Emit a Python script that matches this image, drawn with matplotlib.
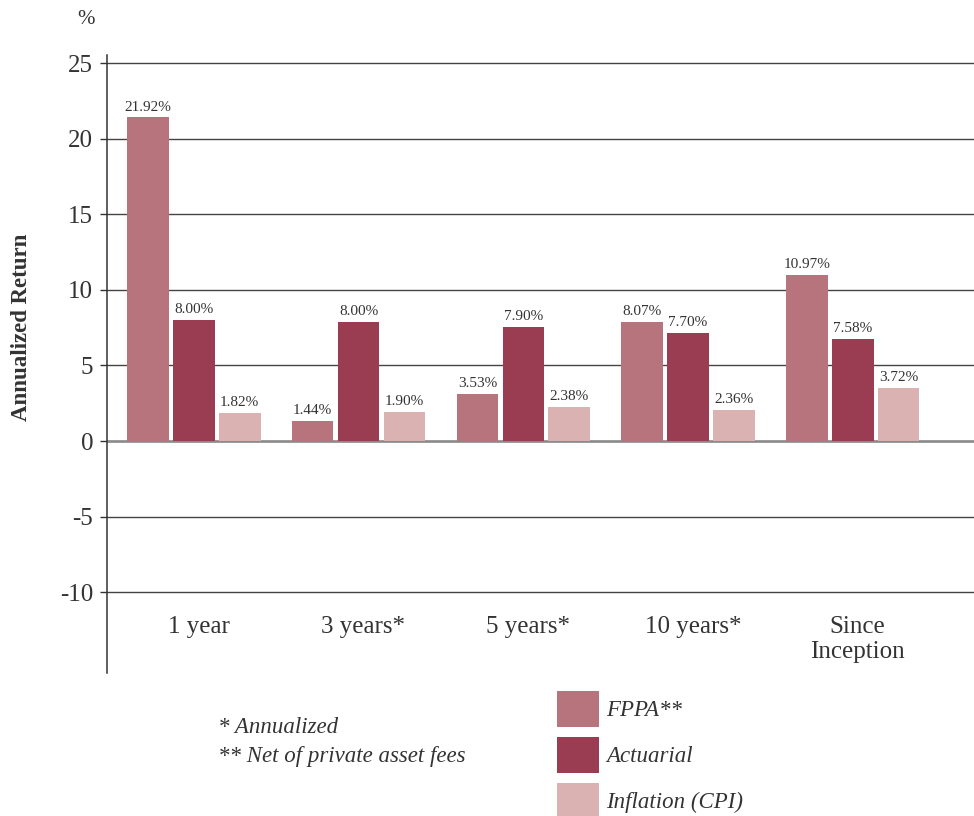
import numpy as np
import matplotlib
matplotlib.use('Agg')
from matplotlib import pyplot as plt

# values
periods = ['1 year', '3 years*', '5 years*', '10 years*', 'Since\nInception']
series = ['FPPA**', 'Actuarial', 'Inflation (CPI)']
colors = ['#B8747C', '#9A3C52', '#DAB2B2']

fppa = [21.4, 1.3, 3.1, 7.9, 11.0]
actuarial = [8.0, 7.9, 7.55, 7.15, 6.75]
cpi = [1.83, 1.9, 2.25, 2.05, 3.5]

fppa_labels = ['21.92%', '1.44%', '3.53%', '8.07%', '10.97%']
actuarial_labels = ['8.00%', '8.00%', '7.90%', '7.70%', '7.58%']
cpi_labels = ['1.82%', '1.90%', '2.38%', '2.36%', '3.72%']

yticks = [-10, -5, 0, 5, 10, 15, 20, 25]

plt.rcParams['font.family'] = ['Liberation Serif', 'DejaVu Serif']
text_color = '#333333'

fig = plt.figure(figsize=(9.74, 8.16), dpi=100)
ax = fig.add_axes([107 / 974, 143 / 816, 867 / 974, 618 / 816])

x = np.arange(len(periods))
width = 0.252
step = 0.279

values = [fppa, actuarial, cpi]
labels = [fppa_labels, actuarial_labels, cpi_labels]
bars = []
for i, (vals, labs) in enumerate(zip(values, labels)):
    b = ax.bar(x + (i - 1) * step, vals, width, color=colors[i], label=series[i], zorder=3)
    bars.append(b)
    for rect, lab in zip(b, labs):
        ax.annotate(lab, (rect.get_x() + rect.get_width() / 2, rect.get_height()),
                    xytext=(0, 5), textcoords='offset points', ha='center', va='baseline',
                    fontsize=11, color=text_color, zorder=4)

ax.set_xlim(-0.527, 4.736)
ax.set_ylim(-15.34, 25.53)
ax.set_yticks(yticks)
ax.set_yticklabels([str(t) for t in yticks])
ax.set_xticks([])
ax.tick_params(axis='y', length=5, width=1.0, pad=5, labelsize=18, colors=text_color)

for s in ['top', 'right', 'bottom']:
    ax.spines[s].set_visible(False)
ax.spines['left'].set_color(text_color)
ax.spines['left'].set_linewidth(1.1)

ax.grid(axis='y', color='#444444', linewidth=1.0, zorder=1)
ax.axhline(0, color='#8a8a8a', linewidth=1.8, zorder=2)

for xi, p in zip(x, periods):
    ax.text(xi + 0.03, -11.6, p, ha='center', va='top', fontsize=18, color=text_color,
            linespacing=1.16)

fig.text(86 / 974, 1 - 19 / 816, '%', ha='center', va='center', fontsize=15, color=text_color)
fig.text(22 / 974, 1 - 327 / 816, 'Annualized Return', rotation=90, ha='center', va='center',
         fontsize=16.5, fontweight='bold', color=text_color)

fig.text(218 / 974, 1 - 733 / 816, '* Annualized', ha='left', va='baseline',
         fontsize=16.5, style='italic', color=text_color)
fig.text(218 / 974, 1 - 762 / 816, '** Net of private asset fees', ha='left', va='baseline',
         fontsize=16.5, style='italic', color=text_color)

leg = fig.legend(handles=bars, labels=series, loc='upper left',
                 bbox_to_anchor=(557 / 974, 1 - 691 / 816), frameon=False,
                 prop={'size': 16.5, 'style': 'italic'}, handlelength=1.83,
                 handleheight=2.04, labelspacing=0.44, handletextpad=0.3,
                 borderpad=0, borderaxespad=0)
for t in leg.get_texts():
    t.set_color(text_color)

fig.savefig('out.png', dpi=100)
